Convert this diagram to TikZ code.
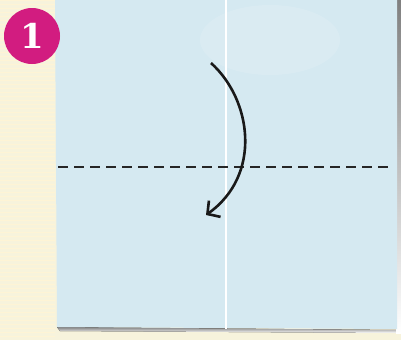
\documentclass[tikz,border=0pt]{standalone}
\usepackage{fontspec}
\newfontfamily\badgefont{DejaVu Serif}
\usetikzlibrary{arrows.meta}
\definecolor{cream}{HTML}{F7F3DC}
\definecolor{paper}{HTML}{D5E9F1}
\definecolor{badge}{HTML}{D21C80}
\definecolor{shade}{HTML}{3A3A3A}
\tikzset{
  fold/.style={line width=1.8pt, dash pattern=on 10pt off 6pt, black!85},
  foldarrow/.style={line width=2.6pt, black!90, -{Straight Barb[length=9pt,width=20pt,line width=2.6pt]}},
  crease/.style={white, line width=1.4pt}
}
\begin{document}
\begin{tikzpicture}[x=1pt,y=-1pt]
\useasboundingbox (0,0) rectangle (401,340);
\fill[cream] (0,0) rectangle (401,340);
\foreach \i in {0,4,...,336} \draw[yellow!50!orange!15, line width=0.8pt] (0,\i) -- (55,\i);
% shadow
\fill[shade] (57,327) -- (399,330) -- (399,333) -- (60,331) -- cycle;
\fill[shade] (396,0) rectangle (401,333);
% paper
\fill[paper] (55,0) -- (397,0) -- (397,329) -- (57,327) -- cycle;
\fill[white, opacity=0.12] (270,40) ellipse (70pt and 35pt);
% crease
\coordinate (ct) at (226,0);
\coordinate (cb) at (226,329);
\draw[crease] (ct) -- (cb);
% badge
\node[circle, fill=badge, minimum size=56pt, inner sep=0pt] (b) at (32,36) {};
\node[text=white, font=\badgefont\bfseries\fontsize{34}{34}\selectfont] (n) at (32,36) {1};
% fold line
\coordinate (fl) at (58,167);
\coordinate (fr) at (388,167);
\draw[fold] (fl) -- (fr);
% arrow
\coordinate (as) at (211,63);
\coordinate (ae) at (206,215);
\draw[foldarrow] (as) .. controls (252,100) and (262,175) .. (ae);
\end{tikzpicture}
\end{document}
